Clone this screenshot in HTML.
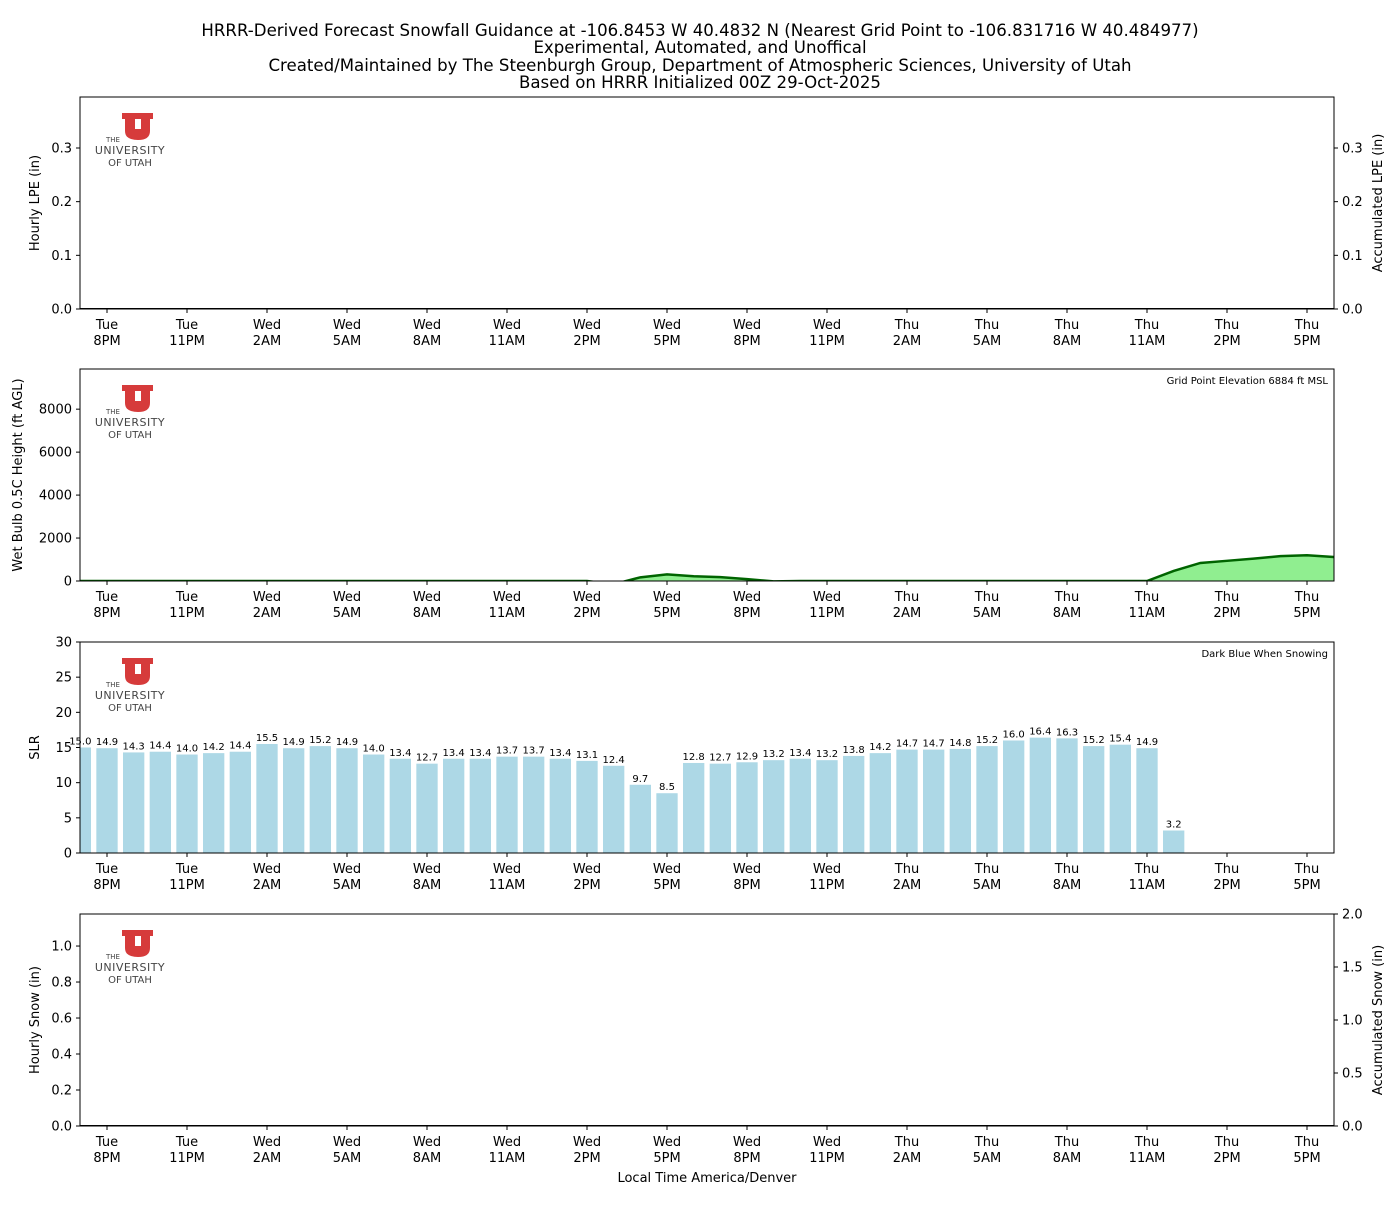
<!DOCTYPE html>
<html><head><meta charset="utf-8"><style>
body{margin:0;background:#fff;font-family:"Liberation Sans","DejaVu Sans",sans-serif}
svg text{font-family:"DejaVu Sans","Liberation Sans",sans-serif}
</style></head><body>
<svg id="chart" width="1400" height="1200" xmlns="http://www.w3.org/2000/svg">
<g font-size="16.6" text-anchor="middle" fill="#000">
<text x="700" y="36">HRRR-Derived Forecast Snowfall Guidance at -106.8453 W 40.4832 N (Nearest Grid Point to -106.831716 W 40.484977)</text>
<text x="700" y="53">Experimental, Automated, and Unoffical</text>
<text x="700" y="71">Created/Maintained by The Steenburgh Group, Department of Atmospheric Sciences, University of Utah</text>
<text x="700" y="88">Based on HRRR Initialized 00Z 29-Oct-2025</text>
</g>
</svg>
<script>
const tickDays=["Tue","Tue","Wed","Wed","Wed","Wed","Wed","Wed","Wed","Wed","Thu","Thu","Thu","Thu","Thu","Thu"];
const tickTimes=["8PM","11PM","2AM","5AM","8AM","11AM","2PM","5PM","8PM","11PM","2AM","5AM","8AM","11AM","2PM","5PM"];
const slrHours=[-1,0,1,2,3,4,5,6,7,8,9,10,11,12,13,14,15,16,17,18,19,20,21,22,23,24,25,26,27,28,29,30,31,32,33,34,35,36,37,38,39,40];
const slrValues=[15.0,14.9,14.3,14.4,14.0,14.2,14.4,15.5,14.9,15.2,14.9,14.0,13.4,12.7,13.4,13.4,13.7,13.7,13.4,13.1,12.4,9.7,8.5,12.8,12.7,12.9,13.2,13.4,13.2,13.8,14.2,14.7,14.7,14.8,15.2,16.0,16.4,16.3,15.2,15.4,14.9,3.2];
const wbHours=[-1,0,1,2,3,4,5,6,7,8,9,10,11,12,13,14,15,16,17,18,19,20,21,22,23,24,25,26,27,28,29,30,31,32,33,34,35,36,37,38,39,40,41,42,43,44,45,46];
const wbValues=[0,0,0,0,0,0,0,0,0,0,0,0,0,0,0,0,0,0,0,0,-150,170,310,220,180,90,-20,0,0,0,0,0,0,0,0,0,0,0,0,0,0,470,840,940,1040,1160,1200,1120];
const lpeValues=[0,0,0,0,0,0,0,0,0,0,0,0,0,0,0,0,0,0,0,0,0,0,0,0,0,0,0,0,0,0,0,0,0,0,0,0,0,0,0,0,0,0,0,0,0,0,0,0];
const snowValues=lpeValues.slice();

const NS="http://www.w3.org/2000/svg";
const svg=document.getElementById('chart');
const X0=80,X1=1334;
function xs(h){return 107+h*80/3;}
function el(tag,attrs,parent){const e=document.createElementNS(NS,tag);for(const k in attrs)e.setAttribute(k,attrs[k]);(parent||svg).appendChild(e);return e;}
function txt(s,attrs,parent){const e=el('text',attrs,parent);e.textContent=s;return e;}

function panel(name,top,bot,ymax,ticks,fmt,ylabel,rticks,rmax,rlabel,note){
  const g=el('g',{});
  
  
  const ys=v=>bot-(v/ymax)*(bot-top);
  const lg=el('g',{},g);
  
  
  el('path',{d:`M122 ${top+16}h16v6h-3v10h6v-10h-3v-6h15v6h-3v12q0 9 -12 9q-13 0 -13 -9v-12h-3z`,fill:'#d63b3b'},lg);
  txt('THE',{x:113,y:top+45,'font-size':7,'text-anchor':'middle',fill:'#444','font-family':'Liberation Serif'},lg);
  txt('UNIVERSITY',{x:130,y:top+57,'font-size':11,'text-anchor':'middle',fill:'#444','font-family':'Liberation Serif','letter-spacing':'0.5'},lg);
  txt('OF UTAH',{x:130,y:top+69,'font-size':10,'text-anchor':'middle',fill:'#444','font-family':'Liberation Serif'},lg);
  const clipId='clip-'+name;
  const cp=el('clipPath',{id:clipId},g);el('rect',{x:X0,y:top,width:X1-X0,height:bot-top},cp);
  const data=el('g',{'clip-path':`url(#${clipId})`},g);
  ticks.forEach(t=>{const y=ys(t);el('line',{x1:X0-4,x2:X0,y1:y,y2:y,stroke:'#000'},g);
    txt(fmt(t),{x:X0-8,y:y+4.5,'font-size':13,'text-anchor':'end'},g);});
  const yl=txt(ylabel,{x:0,y:0,'font-size':13,'text-anchor':'middle',transform:`translate(${name==='wetbulb'?22:39},${(top+bot)/2}) rotate(-90)`},g);
  
  
  if(rticks){const rs=v=>bot-(v/rmax)*(bot-top);
    rticks.forEach(t=>{const y=rs(t);el('line',{x1:X1,x2:X1+4,y1:y,y2:y,stroke:'#000'},g);
      txt(t.toFixed(1),{x:X1+8,y:y+4.5,'font-size':13},g);});
    txt(rlabel,{x:0,y:0,'font-size':13,'text-anchor':'middle',transform:`translate(1382,${(top+bot)/2}) rotate(-90)`},g);}
  tickDays.forEach((d,i)=>{const x=xs(i*3);el('line',{x1:x,x2:x,y1:bot,y2:bot+4,stroke:'#000'},g);
    txt(d,{x:x,y:bot+20,'font-size':13,'text-anchor':'middle'},g);
    txt(tickTimes[i],{x:x,y:bot+36,'font-size':13,'text-anchor':'middle'},g);});
  if(note)txt(note,{x:1328,y:top+15,'font-size':10,'text-anchor':'end'},g);
  return {g,data,ys,top,bot};
}

const p1=panel('lpe',97,309,0.395,[0,0.1,0.2,0.3],t=>t.toFixed(1),'Hourly LPE (in)',[0,0.1,0.2,0.3],0.395,'Accumulated LPE (in)');
{let d='';wbHours.forEach((h,i)=>{d+=(i?'L':'M')+xs(h)+' '+p1.ys(lpeValues[i]);});
 const l=el('path',{d,fill:'none',stroke:'#000','stroke-width':2},p1.data);
 
 }

const p2=panel('wetbulb',369,581,9870,[0,2000,4000,6000,8000],t=>String(t),'Wet Bulb 0.5C Height (ft AGL)',null,0,'','Grid Point Elevation 6884 ft MSL');
{let d='';wbHours.forEach((h,i)=>{d+=(i?'L':'M')+xs(h)+' '+p2.ys(wbValues[i]);});
 const a=el('path',{d:d+`L${xs(wbHours[wbHours.length-1])} ${p2.ys(0)}L${xs(wbHours[0])} ${p2.ys(0)}Z`,fill:'#90ee90'},p2.data);
 
 
 const l=el('path',{d,fill:'none',stroke:'#006400','stroke-width':2.5},p2.data);
 
 }

const p3=panel('slr',642,853,30,[0,5,10,15,20,25,30],t=>String(t),'SLR',null,0,'','Dark Blue When Snowing');
slrHours.forEach((h,i)=>{const v=slrValues[i];const y=p3.ys(v);const w=80/3*0.8;
  const r=el('rect',{x:xs(h)-w/2,y:y,width:w,height:p3.bot-y,fill:'#add8e6'},p3.data);
  
  
  txt(v.toFixed(1),{x:xs(h),y:y-3,'font-size':10,'text-anchor':'middle'},p3.g);});

const p4=panel('snow',914,1126,1.178,[0,0.2,0.4,0.6,0.8,1.0],t=>t.toFixed(1),'Hourly Snow (in)',[0,0.5,1.0,1.5,2.0],2.0,'Accumulated Snow (in)');
{let d='';wbHours.forEach((h,i)=>{d+=(i?'L':'M')+xs(h)+' '+p4.ys(snowValues[i]);});
 const l=el('path',{d,fill:'none',stroke:'#000','stroke-width':2},p4.data);
 
 }
[p1,p2,p3,p4].forEach(p=>{el('rect',{x:X0,y:p.top,width:X1-X0,height:p.bot-p.top,fill:'none',stroke:'#000','stroke-width':1},p.g);});
const xt=txt('Local Time America/Denver',{x:707,y:1182,'font-size':13,'text-anchor':'middle'});


</script>
</body></html>
